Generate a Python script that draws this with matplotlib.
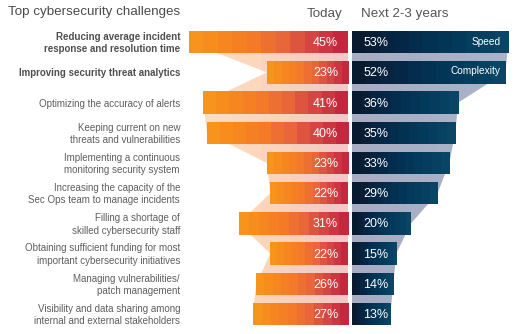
import numpy as np
import matplotlib.pyplot as plt
from matplotlib.colors import LinearSegmentedColormap

plt.rcParams['font.family'] = ['Liberation Sans', 'DejaVu Sans']

challenges = [
    "Reducing average incident\nresponse and resolution time",
    "Improving security threat analytics",
    "Optimizing the accuracy of alerts",
    "Keeping current on new\nthreats and vulnerabilities",
    "Implementing a continuous\nmonitoring security system",
    "Increasing the capacity of the\nSec Ops team to manage incidents",
    "Filling a shortage of\nskilled cybersecurity staff",
    "Obtaining sufficient funding for most\nimportant cybersecurity initiatives",
    "Managing vulnerabilities/\npatch management",
    "Visibility and data sharing among\ninternal and external stakeholders",
]
today = [45, 23, 41, 40, 23, 22, 31, 22, 26, 27]
future = [53, 52, 36, 35, 33, 29, 20, 15, 14, 13]
bold_rows = [0, 1]
tags = {0: "Speed", 1: "Complexity"}

W, H = 518, 334
fig = plt.figure(figsize=(W / 100, H / 100), dpi=100)

# layout in pixels
pitch = 30.2
row0 = 42.2
top_px = 20
ylim = ((H - row0) / pitch, (top_px - row0) / pitch)
bar_h = 22.5 / pitch

left_px0, left_px1, left_scale = 180, 348, 3.53
right_px0, right_px1, right_scale = 352, 518, 2.95

def add_axes(x0, x1):
    ax = fig.add_axes([x0 / W, 0, (x1 - x0) / W, (H - top_px) / H])
    ax.axis('off')
    ax.set_ylim(*ylim)
    return ax

axl = add_axes(left_px0, left_px1)
axl.set_xlim(-(left_px1 - left_px0) / left_scale, 0)
axr = add_axes(right_px0, right_px1)
axr.set_xlim(0, (right_px1 - right_px0) / right_scale)

bar_cmap_l = LinearSegmentedColormap.from_list(
    'today', ['#f7941d', '#f6861f', '#f47a2a', '#e8663a', '#d44543', '#c4283f'])
bar_cmap_r = LinearSegmentedColormap.from_list(
    'future', ['#081a2f', '#05294a', '#03395a', '#0a4565'])
band_cmap_l = LinearSegmentedColormap.from_list('bl', ['#fde0c4', '#fcd5bb', '#f3c8c6'])
band_cmap_r = LinearSegmentedColormap.from_list('br', ['#a8adc3', '#aab4c8'])

rows = np.arange(len(challenges))
steps = np.linspace(0, 1, 11).reshape(1, -1)


def gradient_fill(ax, patch_or_path, x0, x1, y0, y1, cmap, transform=None):
    im = ax.imshow(steps, cmap=cmap, extent=[x0, x1, y1, y0], aspect='auto',
                   interpolation='nearest', zorder=1 if transform else 2)
    if transform is None:
        im.set_clip_path(patch_or_path)
    else:
        im.set_clip_path(patch_or_path, transform)


# connecting bands through the outer edge of each bar
vals_l = -np.array(today)
band = axl.fill_betweenx(rows, vals_l, 0, color='none', lw=0)
gradient_fill(axl, band.get_paths()[0], vals_l.min(), 0, rows[0], rows[-1],
              band_cmap_l, axl.transData)
vals_r = np.array(future)
band = axr.fill_betweenx(rows, 0, vals_r, color='none', lw=0)
gradient_fill(axr, band.get_paths()[0], 0, vals_r.max(), rows[0], rows[-1],
              band_cmap_r, axr.transData)

# bars
bars_l = axl.barh(rows, today, left=vals_l, height=bar_h, color='none', lw=0)
for b, v, y in zip(bars_l, today, rows):
    gradient_fill(axl, b, -v, 0, y - bar_h / 2, y + bar_h / 2, bar_cmap_l)
    axl.text(-2.8, y + 0.03, f"{v}%", color='white', fontsize=9,
             ha='right', va='center', zorder=5)

bars_r = axr.barh(rows, future, height=bar_h, color='none', lw=0)
for b, v, y in zip(bars_r, future, rows):
    gradient_fill(axr, b, 0, v, y - bar_h / 2, y + bar_h / 2, bar_cmap_r)
    axr.text(3.8, y + 0.03, f"{v}%", color='white', fontsize=9,
             ha='left', va='center', zorder=5)

for i, t in tags.items():
    axr.text(future[0] - 2.7, rows[i] - 0.06 * i, t, color='white', fontsize=7.3,
             ha='right', va='center', zorder=5)

# category labels
for i, lab in enumerate(challenges):
    fig.text(180 / W, 1 - (row0 + 1 + pitch * i) / H, lab, ha='right', va='center',
             fontsize=7, linespacing=1.3,
             color='#505050' if i in bold_rows else '#5f5f5f',
             fontweight='bold' if i in bold_rows else 'normal')

fig.text(8 / W, 1 - 12 / H, "Top cybersecurity challenges", fontsize=9.6,
         color='#4a4a4a', ha='left', va='center')
fig.text(342 / W, 1 - 14 / H, "Today", fontsize=9.6, color='#555555',
         ha='right', va='center')
fig.text(361 / W, 1 - 14 / H, "Next 2-3 years", fontsize=9.6, color='#555555',
         ha='left', va='center')

fig.savefig('out.png', dpi=100)
